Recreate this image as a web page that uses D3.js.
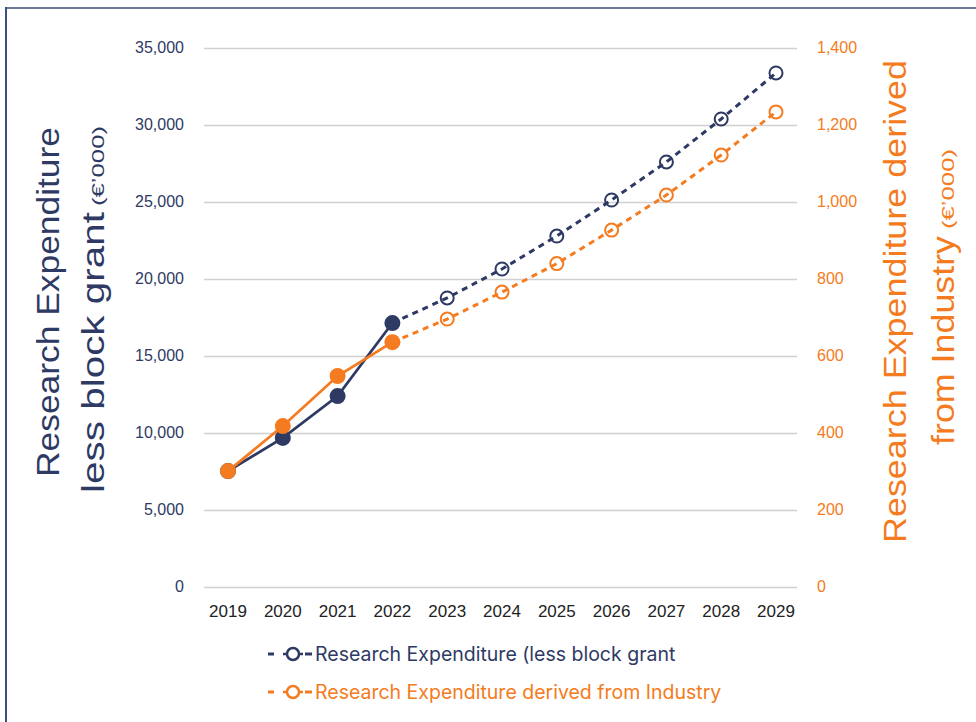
<!DOCTYPE html>
<html>
<head>
<meta charset="utf-8">
<script src="https://cdnjs.cloudflare.com/ajax/libs/d3/7.8.5/d3.min.js"></script>
<style>
  body { margin: 0; background: #fff; }
  .tick-left { font-family: "Liberation Sans", Arial, sans-serif; font-size: 16px; fill: #2E3A64; }
  .tick-right { font-family: "Liberation Sans", Arial, sans-serif; font-size: 16px; fill: #F47B20; }
  .tick-x { font-family: "Liberation Sans", Arial, sans-serif; font-size: 17px; fill: #222; }
  .title { font-family: "Liberation Sans", Arial, sans-serif; }
  .legend { font-family: Inter, "Noto Sans", sans-serif; font-size: 19.5px; }
</style>
</head>
<body>
<div id="vis"></div>
<script>
    // data
    var years = [2019, 2020, 2021, 2022, 2023, 2024, 2025, 2026, 2027, 2028, 2029];
    var lessBlockGrant = [7530, 9680, 12400, 17140, 18770, 20650, 22790, 25130, 27600, 30390, 33380];
    var fromIndustry = [301, 418, 548, 636, 696, 766, 840, 927, 1018, 1122, 1234];
    var lastActualYear = 2022;

    var leftTicks = [0, 5000, 10000, 15000, 20000, 25000, 30000, 35000];
    var rightTicks = [0, 200, 400, 600, 800, 1000, 1200, 1400];

    var seriesNames = ["Research Expenditure (less block grant", "Research Expenditure derived from Industry"];

    var NAVY = "#2E3A64";
    var ORANGE = "#F47B20";

    var width = 976;
    var height = 722;

    var plot = { left: 204, right: 797, top: 48, bottom: 587 };

    var svg = d3.select("#vis")
                .append("svg")
                .attr("width", width)
                .attr("height", height);

    // frame lines (top and left edges of the picture)
    svg.append("line")
        .attr("x1", 5).attr("x2", width).attr("y1", 8).attr("y2", 8)
        .attr("stroke", "#6E7B98").attr("stroke-width", 2);
    svg.append("line")
        .attr("x1", 6).attr("x2", 6).attr("y1", 7).attr("y2", height)
        .attr("stroke", "#3D4F7C").attr("stroke-width", 2);

    // scales
    var x = d3.scalePoint().domain(years).range([228, 776]);
    var yLeft = d3.scaleLinear().domain([0, 35000]).range([plot.bottom, plot.top]);
    var yRight = d3.scaleLinear().domain([0, 1400]).range([plot.bottom, plot.top]);

    // gridlines
    svg.append("g")
        .selectAll("line")
        .data(leftTicks)
        .enter().append("line")
        .attr("x1", plot.left)
        .attr("x2", plot.right)
        .attr("y1", function(d) { return yLeft(d) + 0.5; })
        .attr("y2", function(d) { return yLeft(d) + 0.5; })
        .attr("stroke", "#D0D0D0")
        .attr("stroke-width", 1.5);

    // left axis labels
    svg.append("g")
        .selectAll("text")
        .data(leftTicks)
        .enter().append("text")
        .attr("class", "tick-left")
        .attr("x", 184)
        .attr("y", function(d) { return yLeft(d) + 5; })
        .attr("text-anchor", "end")
        .text(function(d) { return d3.format(",")(d); });

    // right axis labels
    svg.append("g")
        .selectAll("text")
        .data(rightTicks)
        .enter().append("text")
        .attr("class", "tick-right")
        .attr("x", 817)
        .attr("y", function(d) { return yRight(d) + 5; })
        .attr("text-anchor", "start")
        .text(function(d) { return d3.format(",")(d); });

    // x labels
    svg.append("g")
        .selectAll("text")
        .data(years)
        .enter().append("text")
        .attr("class", "tick-x")
        .attr("x", function(d) { return x(d); })
        .attr("y", 617)
        .attr("text-anchor", "middle")
        .text(function(d) { return d; });

    // axis titles, each piece stretched to the length it takes in the original
    var titleParts = [
        { text: "Research Expenditure", x: 59, y: 477, len: 350, size: 32, color: NAVY },
        { text: "less block grant", x: 104, y: 493, len: 281, size: 32, color: NAVY },
        { text: "(\u20AC\u2019000)", x: 104, y: 206, len: 80, size: 17, color: NAVY },
        { text: "Research Expenditure derived", x: 906, y: 543, len: 483, size: 32, color: ORANGE },
        { text: "from Industry", x: 954, y: 445, len: 209, size: 32, color: ORANGE },
        { text: "(\u20AC\u2019000)", x: 954, y: 229, len: 80, size: 17, color: ORANGE }
    ];

    svg.append("g")
        .selectAll("text")
        .data(titleParts)
        .enter().append("text")
        .attr("class", "title")
        .attr("transform", function(d) { return "translate(" + d.x + "," + d.y + ") rotate(-90)"; })
        .attr("text-anchor", "start")
        .attr("fill", function(d) { return d.color; })
        .attr("textLength", function(d) { return d.len; })
        .attr("lengthAdjust", "spacingAndGlyphs")
        .style("font-size", function(d) { return d.size + "px"; })
        .text(function(d) { return d.text; });

    // series
    var series = [
        { name: seriesNames[0], values: lessBlockGrant, y: yLeft, color: NAVY },
        { name: seriesNames[1], values: fromIndustry, y: yRight, color: ORANGE }
    ];

    series.forEach(function(s) {
        var pts = years.map(function(yr, i) { return { year: yr, value: s.values[i] }; });
        var actual = pts.filter(function(d) { return d.year <= lastActualYear; });
        var forecast = pts.filter(function(d) { return d.year >= lastActualYear; });

        var line = d3.line()
            .x(function(d) { return x(d.year); })
            .y(function(d) { return s.y(d.value); });

        svg.append("path")
            .datum(forecast)
            .attr("d", line)
            .attr("fill", "none")
            .attr("stroke", s.color)
            .attr("stroke-width", 3)
            .attr("stroke-dasharray", "6,5");

        svg.append("path")
            .datum(actual)
            .attr("d", line)
            .attr("fill", "none")
            .attr("stroke", s.color)
            .attr("stroke-width", 2.75);

        svg.append("g")
            .selectAll("circle")
            .data(forecast.slice(1))
            .enter().append("circle")
            .attr("cx", function(d) { return x(d.year); })
            .attr("cy", function(d) { return s.y(d.value); })
            .attr("r", 6.5)
            .attr("fill", "none")
            .attr("stroke", s.color)
            .attr("stroke-width", 2);

        svg.append("g")
            .selectAll("circle")
            .data(actual)
            .enter().append("circle")
            .attr("cx", function(d) { return x(d.year); })
            .attr("cy", function(d) { return s.y(d.value); })
            .attr("r", 8)
            .attr("fill", s.color);
    });

    // legend
    var legend = svg.append("g");
    series.forEach(function(s, i) {
        var ly = 654 + i * 38;
        var item = legend.append("g");
        item.append("line")
            .attr("x1", 268).attr("x2", 274).attr("y1", ly).attr("y2", ly)
            .attr("stroke", s.color).attr("stroke-width", 3);
        item.append("line")
            .attr("x1", 305).attr("x2", 312).attr("y1", ly).attr("y2", ly)
            .attr("stroke", s.color).attr("stroke-width", 3);
        item.append("line")
            .attr("x1", 283).attr("x2", 303).attr("y1", ly).attr("y2", ly)
            .attr("stroke", s.color).attr("stroke-width", 2.5);
        item.append("circle")
            .attr("cx", 293).attr("cy", ly).attr("r", 6)
            .attr("fill", "#fff").attr("stroke", s.color).attr("stroke-width", 2.5);
        item.append("text")
            .attr("class", "legend")
            .attr("x", 315)
            .attr("y", ly + 7)
            .attr("fill", s.color)
            .text(s.name);
    });
</script>
</body>
</html>
